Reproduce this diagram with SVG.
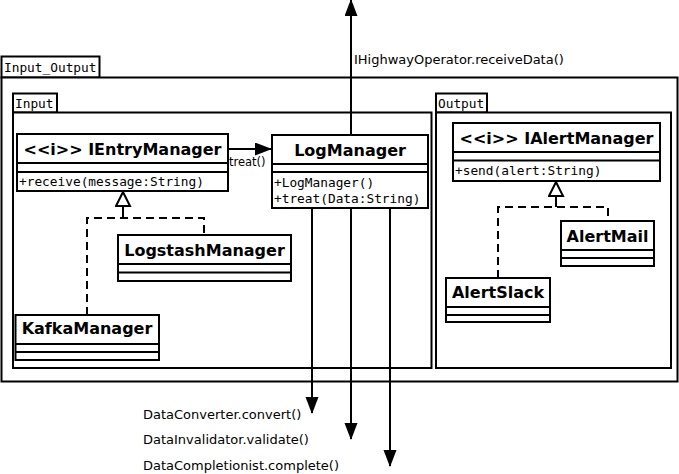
<svg xmlns="http://www.w3.org/2000/svg" width="679" height="474" viewBox="0 0 679 474">
<style>
.pkg{fill:#fff;stroke:#000;stroke-width:2}
.box{fill:#fff;stroke:#000;stroke-width:2}
.mono{font-family:"DejaVu Sans Mono","Liberation Mono",monospace;font-size:12.8px;fill:#000}
.title{font-family:"DejaVu Sans","Liberation Sans",sans-serif;font-size:16px;font-weight:bold;fill:#000;text-anchor:middle}
.lbl{font-family:"DejaVu Sans","Liberation Sans",sans-serif;font-size:13px;fill:#000}
.sm{font-size:11.5px}
.line{fill:none;stroke:#000;stroke-width:2}
.dash{fill:none;stroke:#000;stroke-width:2;stroke-dasharray:8,5}
</style>
<defs>
<marker id="filled" markerUnits="userSpaceOnUse" markerWidth="18" markerHeight="14" refX="16" refY="6.5" orient="auto">
<path d="M0,0 L17,6.5 L0,13 Z" fill="#000"/>
</marker>
<marker id="hollow" markerUnits="userSpaceOnUse" markerWidth="18" markerHeight="18" refX="15" refY="8" orient="auto">
<path d="M1,1 L15,8 L1,15 Z" fill="#fff" stroke="#000" stroke-width="2"/>
</marker>
</defs>
<rect width="679" height="474" fill="#fff"/>

<g id="pkg-input-output">
<rect class="pkg" x="1.5" y="56.5" width="98" height="21"/>
<text class="mono" x="4" y="72">Input_Output</text>
<rect class="pkg" x="1.5" y="77.5" width="676" height="304"/>
</g>

<g id="pkg-input">
<rect class="pkg" x="13" y="93.5" width="44" height="19"/>
<text class="mono" x="15" y="108">Input</text>
<rect class="pkg" x="13" y="112.5" width="418.5" height="255.5"/>
</g>

<g id="pkg-output">
<rect class="pkg" x="436" y="93.5" width="51" height="19"/>
<text class="mono" x="438" y="108">Output</text>
<rect class="pkg" x="436" y="112.5" width="235" height="255.5"/>
</g>

<g id="connectors">
<line class="line" x1="228" y1="149" x2="271" y2="149" marker-end="url(#filled)"/>
<text class="lbl sm" x="229" y="166">treat()</text>
<line class="line" x1="351" y1="135" x2="351" y2="0" marker-end="url(#filled)"/>
<text class="lbl" x="354" y="64">IHighwayOperator.receiveData()</text>
<line class="line" x1="312" y1="208" x2="312" y2="413" marker-end="url(#filled)"/>
<line class="line" x1="351" y1="208" x2="351" y2="439" marker-end="url(#filled)"/>
<line class="line" x1="390" y1="208" x2="390" y2="466" marker-end="url(#filled)"/>
<text class="lbl" x="143" y="419">DataConverter.convert()</text>
<text class="lbl" x="143" y="444">DataInvalidator.validate()</text>
<text class="lbl" x="143" y="470">DataCompletionist.complete()</text>
<path class="dash" d="M87,315 V218 H204 V235"/>
<line class="line" x1="123" y1="218" x2="123" y2="192" marker-end="url(#hollow)"/>
<path class="dash" d="M498,278 V207 H608 V221"/>
<line class="line" x1="556" y1="207" x2="556" y2="182" marker-end="url(#hollow)"/>
</g>

<g id="IEntryManager">
<rect class="box" x="17" y="134" width="211" height="57"/>
<line class="line" x1="17" y1="163" x2="228" y2="163"/>
<line class="line" x1="17" y1="172" x2="228" y2="172"/>
<text class="title" x="122.5" y="155">&lt;&lt;i&gt;&gt; IEntryManager</text>
<text class="mono" x="19" y="186">+receive(message:String)</text>
</g>

<g id="LogManager">
<rect class="box" x="272" y="135" width="156" height="73"/>
<line class="line" x1="272" y1="164" x2="428" y2="164"/>
<line class="line" x1="272" y1="172" x2="428" y2="172"/>
<text class="title" x="350" y="156">LogManager</text>
<text class="mono" x="274" y="187">+LogManager()</text>
<text class="mono" x="274" y="203">+treat(Data:String)</text>
</g>

<g id="LogstashManager">
<rect class="box" x="118" y="235" width="173" height="46"/>
<line class="line" x1="118" y1="264" x2="291" y2="264"/>
<line class="line" x1="118" y1="272.5" x2="291" y2="272.5"/>
<text class="title" x="204.5" y="256">LogstashManager</text>
</g>

<g id="KafkaManager">
<rect class="box" x="15.5" y="315" width="143.5" height="45"/>
<line class="line" x1="15.5" y1="344" x2="159" y2="344"/>
<line class="line" x1="15.5" y1="352" x2="159" y2="352"/>
<text class="title" x="87" y="334">KafkaManager</text>
</g>

<g id="IAlertManager">
<rect class="box" x="453" y="123" width="207" height="58"/>
<line class="line" x1="453" y1="152" x2="660" y2="152"/>
<line class="line" x1="453" y1="160.5" x2="660" y2="160.5"/>
<text class="title" x="556.5" y="144">&lt;&lt;i&gt;&gt; IAlertManager</text>
<text class="mono" x="455" y="175">+send(alert:String)</text>
</g>

<g id="AlertMail">
<rect class="box" x="561" y="221" width="93" height="45"/>
<line class="line" x1="561" y1="250" x2="654" y2="250"/>
<line class="line" x1="561" y1="258" x2="654" y2="258"/>
<text class="title" x="607.5" y="242">AlertMail</text>
</g>

<g id="AlertSlack">
<rect class="box" x="446" y="278" width="104" height="44"/>
<line class="line" x1="446" y1="307" x2="550" y2="307"/>
<line class="line" x1="446" y1="315" x2="550" y2="315"/>
<text class="title" x="498" y="298">AlertSlack</text>
</g>
</svg>
